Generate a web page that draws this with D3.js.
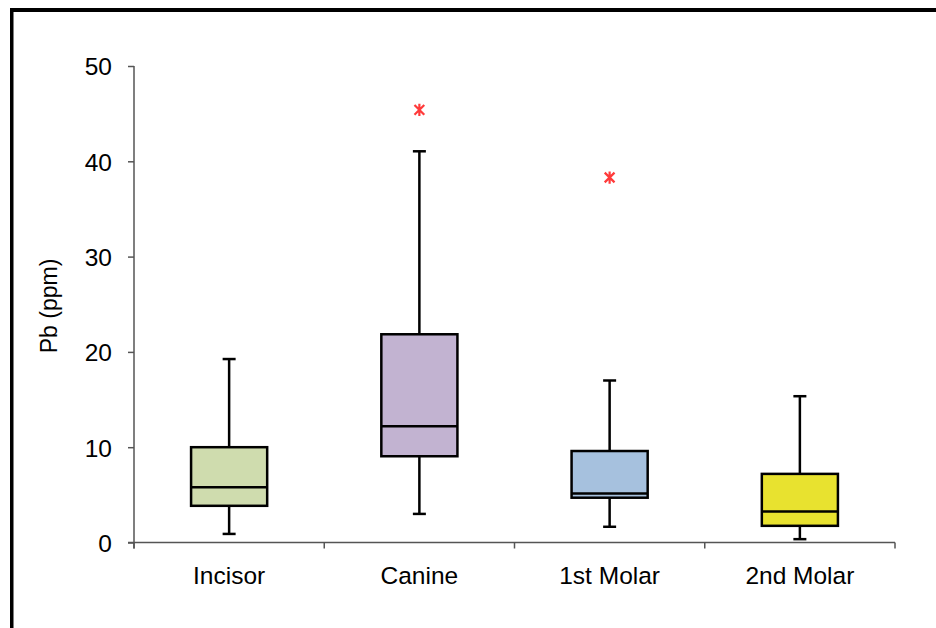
<!DOCTYPE html>
<html><head><meta charset="utf-8">
<script src="https://cdn.jsdelivr.net/npm/d3@7"></script>
<style>
html,body{margin:0;padding:0;background:#fff;}
svg{display:block;font-family:"Liberation Sans",Arial,Helvetica,sans-serif;}
</style></head>
<body>
<svg id="chart" width="936" height="628"></svg>
<script>
const categories = ["Incisor","Canine","1st Molar","2nd Molar"];
const whiskerLow = [0.9, 3.0, 1.65, 0.35];
const q1 = [3.85, 9.05, 4.7, 1.75];
const median = [5.8, 12.2, 5.15, 3.25];
const q3 = [10.0, 21.85, 9.6, 7.2];
const whiskerHigh = [19.25, 41.05, 17.0, 15.35];
const outlierCategory = ["Canine","1st Molar"];
const outlierValue = [45.4, 38.3];
const yTicks = [0,10,20,30,40,50];
const fills = ["#cfdcae","#c2b3d1","#a6c1de","#e8e22f"];

const svg = d3.select("#chart");
const pLeft = 134, pRight = 895, pTop = 66, pBottom = 542.5;
const x = d3.scaleBand().domain(categories).range([pLeft, pRight]).padding(0);
const y = d3.scaleLinear().domain([0, 50]).range([pBottom, pTop]);
const boxW = x.bandwidth() * 0.4;
const capW = 13;

// frame
svg.append("rect").attr("x",10).attr("y",8).attr("width",926).attr("height",4).attr("fill","#000");
svg.append("rect").attr("x",10).attr("y",8).attr("width",3.5).attr("height",620).attr("fill","#000");

const axisColor = "#555";
// y axis
const yAxis = d3.axisLeft(y).tickValues(yTicks).tickSize(6).tickSizeOuter(0).tickPadding(16);
const gy = svg.append("g").attr("transform",`translate(${pLeft},0)`).call(yAxis);
gy.select(".domain").attr("stroke",axisColor).attr("stroke-width",1.5).attr("d",`M0,${pTop}V${pBottom+6}`);
gy.selectAll(".tick line").attr("stroke",axisColor).attr("stroke-width",1.5);
gy.selectAll(".tick text").attr("font-size",24.5).attr("fill","#000").attr("font-family","'Liberation Sans',Arial,sans-serif").attr("dy","0.36em");

// x axis
const boundaries = categories.map(c => x(c)).concat([pRight]);
const gx = svg.append("g");
gx.append("line").attr("x1",pLeft-6).attr("x2",pRight).attr("y1",pBottom).attr("y2",pBottom)
  .attr("stroke",axisColor).attr("stroke-width",1.5);
gx.selectAll("line.t").data(boundaries).enter().append("line").attr("class","t")
  .attr("x1",d=>d).attr("x2",d=>d).attr("y1",pBottom).attr("y2",pBottom+6)
  .attr("stroke",axisColor).attr("stroke-width",1.5);
gx.selectAll("text").data(categories).enter().append("text")
  .attr("x",d=>x(d)+x.bandwidth()/2).attr("y",584)
  .attr("text-anchor","middle").attr("font-size",24.5).attr("fill","#000").text(d=>d);

// y label
svg.append("text").attr("transform","translate(57,306) rotate(-90)")
  .attr("text-anchor","middle").attr("font-size",23).attr("fill","#000").text("Pb (ppm)");

// boxes
const data = categories.map((c,i)=>({c, lo:whiskerLow[i], q1:q1[i], med:median[i], q3:q3[i], hi:whiskerHigh[i], fill:fills[i]}));
const g = svg.selectAll("g.box").data(data).enter().append("g").attr("class","box");
const cx = d => x(d.c) + x.bandwidth()/2;
g.append("line").attr("x1",cx).attr("x2",cx).attr("y1",d=>y(d.hi)).attr("y2",d=>y(d.q3)).attr("stroke","#000").attr("stroke-width",2.5);
g.append("line").attr("x1",cx).attr("x2",cx).attr("y1",d=>y(d.q1)).attr("y2",d=>y(d.lo)).attr("stroke","#000").attr("stroke-width",2.5);
g.append("line").attr("x1",d=>cx(d)-capW/2).attr("x2",d=>cx(d)+capW/2).attr("y1",d=>y(d.hi)).attr("y2",d=>y(d.hi)).attr("stroke","#000").attr("stroke-width",2.5);
g.append("line").attr("x1",d=>cx(d)-capW/2).attr("x2",d=>cx(d)+capW/2).attr("y1",d=>y(d.lo)).attr("y2",d=>y(d.lo)).attr("stroke","#000").attr("stroke-width",2.5);
g.append("rect").attr("x",d=>cx(d)-boxW/2).attr("width",boxW)
  .attr("y",d=>y(d.q3)).attr("height",d=>y(d.q1)-y(d.q3))
  .attr("fill",d=>d.fill).attr("stroke","#000").attr("stroke-width",2.5);
g.append("line").attr("x1",d=>cx(d)-boxW/2).attr("x2",d=>cx(d)+boxW/2).attr("y1",d=>y(d.med)).attr("y2",d=>y(d.med)).attr("stroke","#000").attr("stroke-width",2.5);

// outliers: asterisk (X plus vertical bar)
const starType = {
  draw(ctx, size) {
    const r = Math.sqrt(size) / 2;
    const d = r * 0.8;
    ctx.moveTo(0, -r); ctx.lineTo(0, r);
    ctx.moveTo(-d, -d); ctx.lineTo(d, d);
    ctx.moveTo(-d, d); ctx.lineTo(d, -d);
  }
};
const sym = d3.symbol().type(starType).size(150);
svg.selectAll("path.out").data(outlierCategory.map((c,i)=>({c,v:outlierValue[i]}))).enter().append("path").attr("class","out")
  .attr("d",sym).attr("transform",d=>`translate(${x(d.c)+x.bandwidth()/2},${y(d.v)})`)
  .attr("fill","none").attr("stroke","#ff3b3b").attr("stroke-width",2.2);
</script>
</body></html>
